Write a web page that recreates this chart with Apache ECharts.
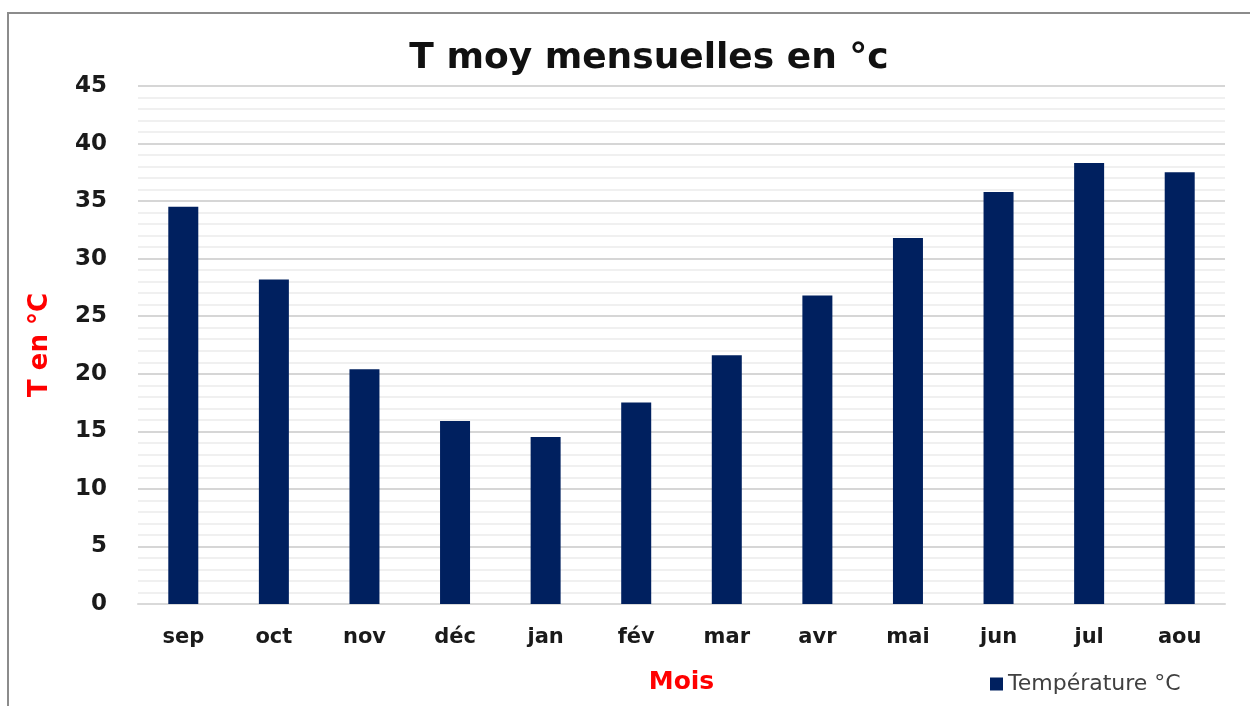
<!DOCTYPE html>
<html>
  <head>
    <meta charset="utf-8" />
    <title>T moy mensuelles</title>
    <script src="https://cdn.jsdelivr.net/npm/echarts@6/dist/echarts.min.js"></script>
    <style>
      body { margin: 0; background: #fff; }
      #frame {
        position: absolute; left: 7px; top: 12px; width: 1260px; height: 720px;
        border-left: 2px solid #8c8c8c; border-top: 2px solid #8c8c8c;
      }
      #chart { position: absolute; left: 0; top: 0; width: 1250px; height: 706px; }
    </style>
  </head>
  <body>
    <div id="frame"></div>
    <div id="chart"></div>
    <script>
      var months = ["sep", "oct", "nov", "déc", "jan", "fév", "mar", "avr", "mai", "jun", "jul", "aou"];
      var temperatures = [34.5, 28.2, 20.4, 15.9, 14.5, 17.5, 21.6, 26.8, 31.8, 35.8, 38.3, 37.5];
      var seriesName = "Température °C";

      var font = "'DejaVu Sans', sans-serif";

      var option = {
        title: {
          text: "T moy mensuelles en °c",
          left: 644,
          top: 36,
          textAlign: "center",
          textStyle: { fontFamily: font, fontWeight: "bold", fontSize: 36, color: "#111" }
        },
        legend: {
          data: [seriesName],
          left: 985,
          top: 668,
          itemWidth: 13,
          itemHeight: 13,
          itemGap: 6,
          icon: "rect",
          textStyle: { fontFamily: font, fontSize: 22, color: "#404040" }
        },
        grid: { left: 138, right: 25, top: 86, bottom: 102 },
        xAxis: {
          type: "category",
          data: months,
          name: "Mois",
          nameLocation: "middle",
          nameGap: 66,
          nameTextStyle: { fontFamily: font, fontWeight: "bold", fontSize: 25, color: "#ff0000" },
          axisTick: { show: false },
          axisLine: { lineStyle: { color: "#d9d9d9", width: 2 } },
          axisLabel: { fontFamily: font, fontWeight: "bold", fontSize: 21, color: "#1a1a1a", margin: 23 }
        },
        yAxis: {
          type: "value",
          min: 0,
          max: 45,
          interval: 5,
          name: "T en °C",
          nameLocation: "middle",
          nameGap: 85,
          nameRotate: 90,
          nameTextStyle: { fontFamily: font, fontWeight: "bold", fontSize: 26, color: "#ff0000" },
          axisLine: { show: false },
          axisTick: { show: false },
          axisLabel: { fontFamily: font, fontWeight: "bold", fontSize: 23, color: "#1a1a1a", margin: 31 },
          splitLine: { lineStyle: { color: "#d6d6d6", width: 2 } },
          minorTick: { show: false, splitNumber: 5 },
          minorSplitLine: { show: true, lineStyle: { color: "#f0f0f0", width: 2 } }
        },
        series: [
          {
            name: seriesName,
            type: "bar",
            data: temperatures,
            barWidth: 30,
            itemStyle: { color: "#00205f" }
          }
        ]
      };

      var chart = echarts.init(document.getElementById("chart"));
      chart.setOption(option);
    </script>
  </body>
</html>
